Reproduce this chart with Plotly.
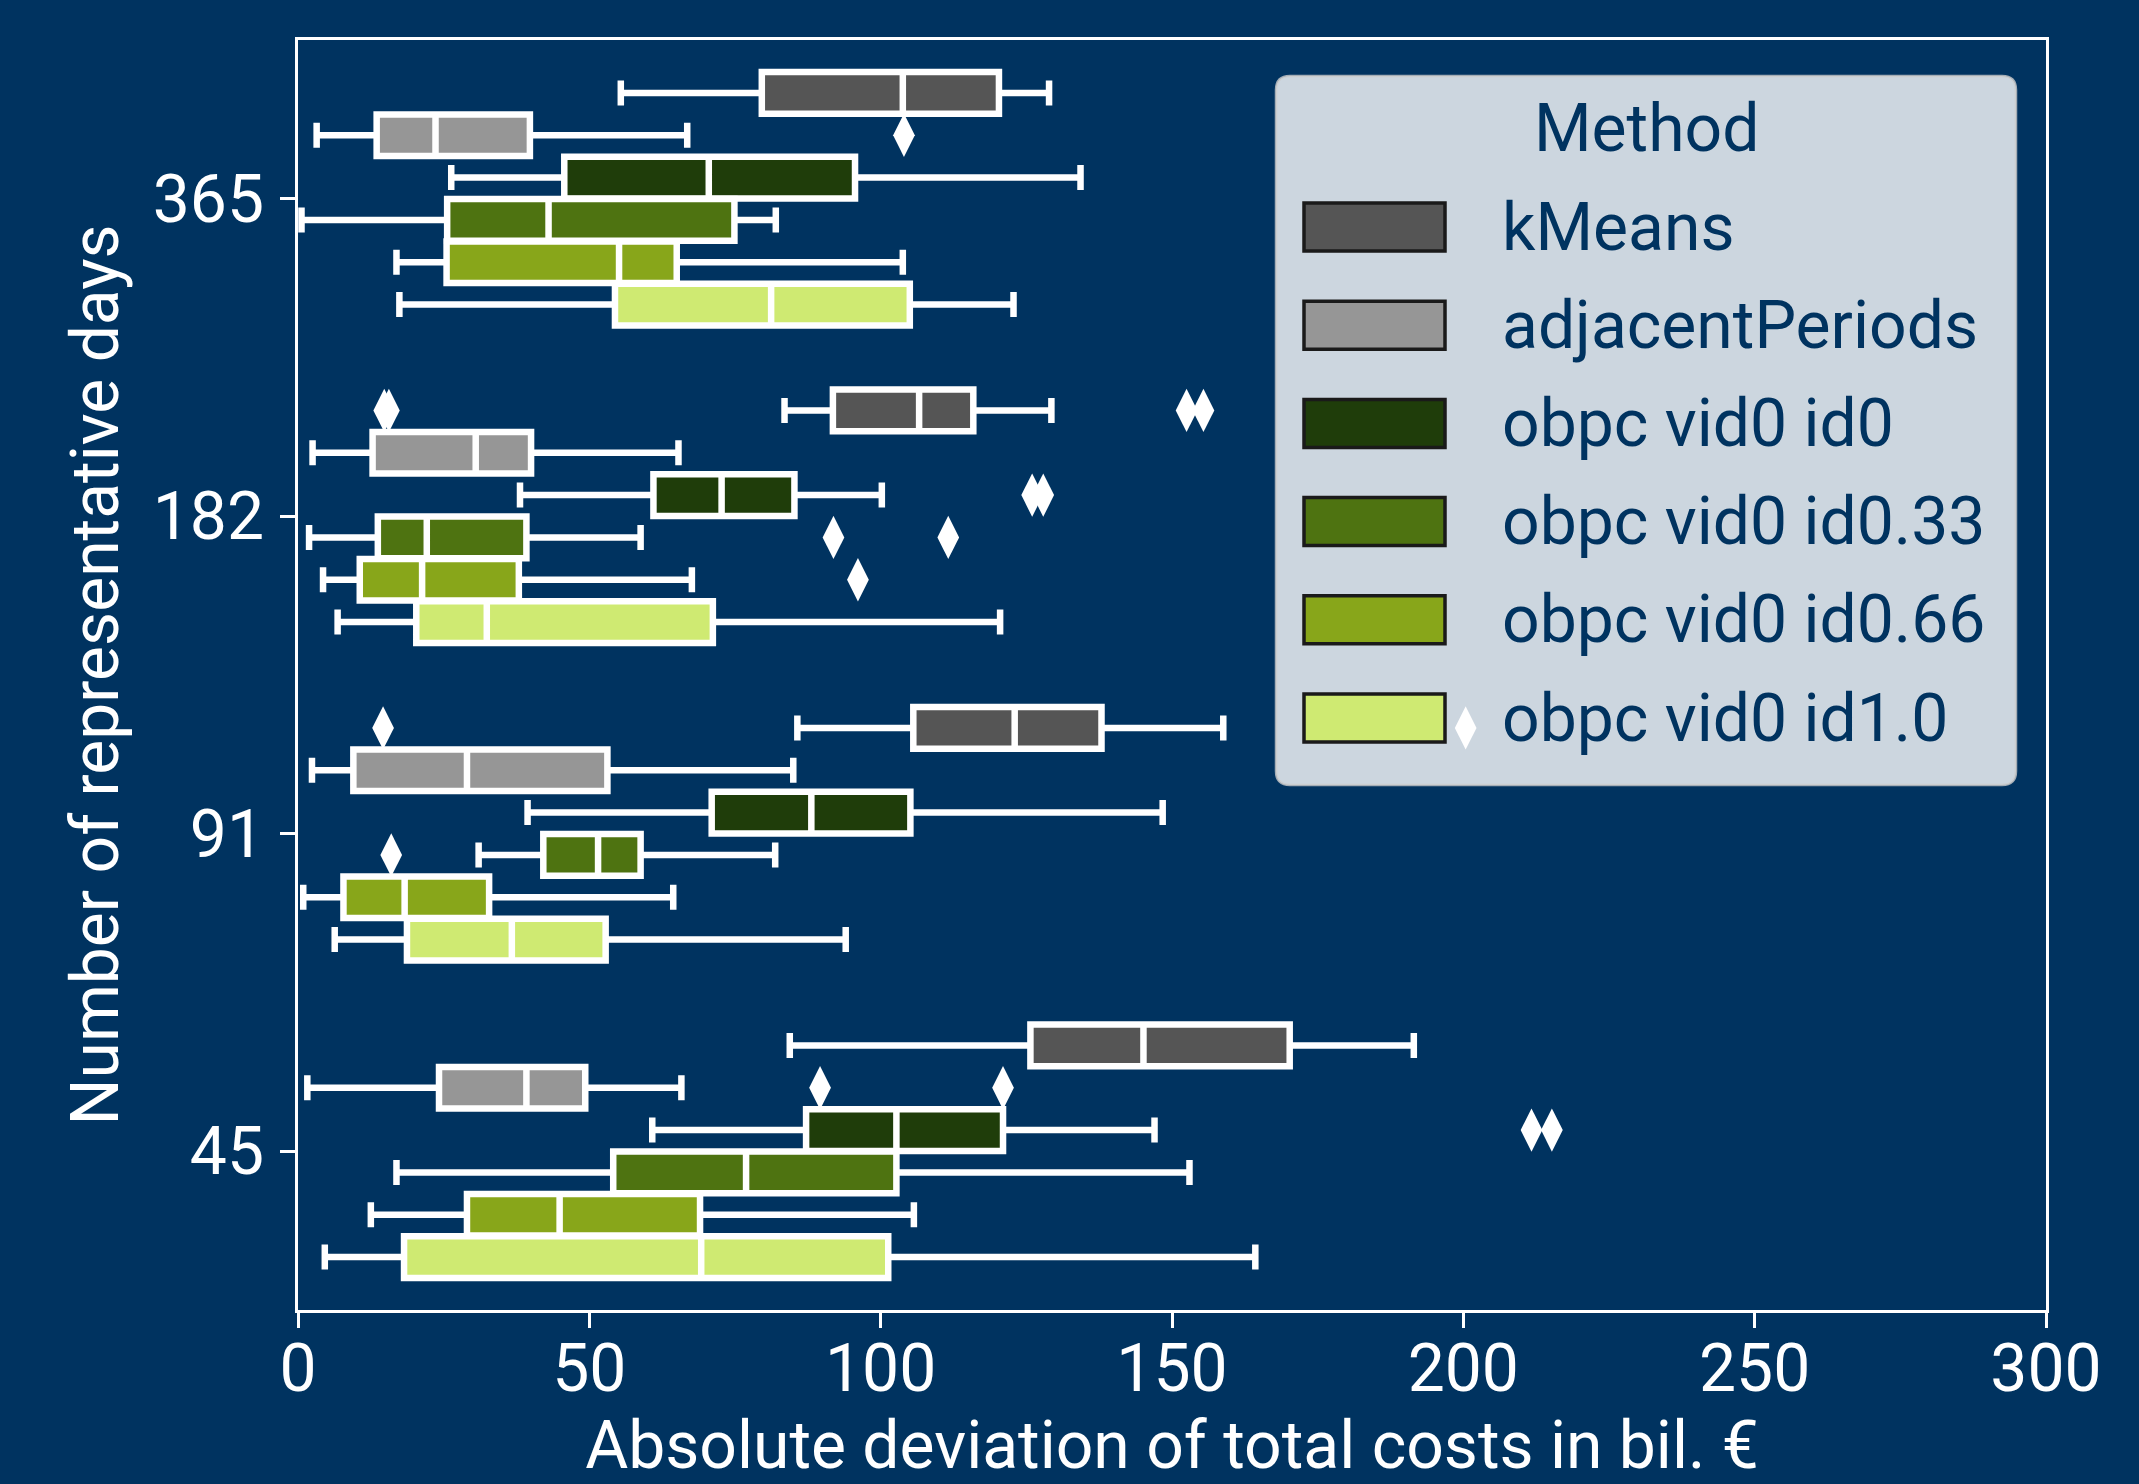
import plotly.graph_objects as go

# ---------------- data ----------------
categories = ["365", "182", "91", "45"]
methods = ["kMeans", "adjacentPeriods", "obpc vid0 id0",
           "obpc vid0 id0.33", "obpc vid0 id0.66", "obpc vid0 id1.0"]
colors = ["#555555", "#969696", "#1F3D0A", "#4E7311", "#88A61A", "#CFEA72"]

# indexed [method][category], categories in order 365, 182, 91, 45
whisker_low = [
    [55.4, 83.5, 85.7, 84.4],
    [3.2, 2.5, 2.4, 1.6],
    [26.3, 38.1, 39.4, 60.8],
    [0.6, 1.9, 31.0, 16.9],
    [16.9, 4.3, 0.9, 12.5],
    [17.4, 6.8, 6.3, 4.6],
]
q1 = [
    [79.6, 91.8, 105.6, 125.7],
    [13.5, 12.8, 9.5, 24.2],
    [45.7, 61.0, 71.0, 87.2],
    [25.6, 13.7, 42.1, 54.1],
    [25.5, 10.6, 7.8, 29.0],
    [54.4, 20.3, 18.7, 18.2],
]
median = [
    [103.8, 106.6, 123.0, 145.1],
    [23.6, 30.5, 29.0, 39.2],
    [70.5, 72.7, 88.1, 102.7],
    [43.0, 22.1, 51.5, 76.9],
    [55.1, 21.3, 18.3, 44.9],
    [81.2, 32.4, 36.7, 69.2],
]
q3 = [
    [120.3, 115.9, 137.9, 170.2],
    [39.8, 40.0, 53.1, 49.3],
    [95.6, 85.2, 105.1, 121.0],
    [74.9, 39.2, 58.8, 102.7],
    [65.0, 37.9, 32.8, 69.0],
    [105.0, 71.2, 52.8, 101.3],
]
whisker_high = [
    [128.9, 129.3, 158.8, 191.5],
    [66.8, 65.3, 85.0, 65.8],
    [134.3, 100.2, 148.4, 147.0],
    [82.0, 58.8, 81.9, 153.0],
    [103.8, 67.6, 64.4, 105.7],
    [122.8, 120.5, 94.0, 164.3],
]
outliers = [
    [[], [14.8, 15.6, 152.5, 155.4], [14.6, 200.4], []],
    [[104.0], [], [], [89.6, 121.0]],
    [[], [126.0, 127.9], [], [211.7, 215.2]],
    [[], [91.9, 111.6], [16.0], []],
    [[], [96.1], [], []],
    [[], [], [], []],
]
x_ticks = [0, 50, 100, 150, 200, 250, 300]

# ---------------- style ----------------
BG = "#003360"
FONT = "Roboto"
FS = 66
W, H = 2139, 1484
L, R, T, B = 298, 93, 40, 174
PW, PH = W - L - R, H - T - B
n_m = len(methods)
group_w = 0.8
slot = group_w / n_m
box_w = 0.131

fig = go.Figure()

for m, name in enumerate(methods):
    off = (m - (n_m - 1) / 2) * slot
    pos = [c + off for c in range(len(categories))]
    fig.add_trace(go.Box(
        orientation="h", y=pos,
        q1=q1[m], median=median[m], q3=q3[m],
        lowerfence=whisker_low[m], upperfence=whisker_high[m],
        width=box_w, whiskerwidth=0.6,
        fillcolor=colors[m], line=dict(color="white", width=6.5),
        boxpoints=False, name=name, showlegend=False, hoverinfo="skip",
    ))
    ox, oy = [], []
    for c, vals in enumerate(outliers[m]):
        for v in vals:
            ox.append(v)
            oy.append(c + off)
    if ox:
        fig.add_trace(go.Scatter(
            x=ox, y=oy, mode="markers", showlegend=False, hoverinfo="skip",
            marker=dict(symbol="diamond-tall", size=31, color="white",
                        line=dict(width=0)),
        ))

# ---------------- manual legend ----------------
def px2x(px):
    return (px - L) / PW

def py2y(py):
    return 1 - (py - T) / PH

lx0, lx1, ly0, ly1 = 1276, 2016, 76, 785
rad = 14
rx, ry = rad / PW, rad / PH
X0, X1, Y0, Y1 = px2x(lx0), px2x(lx1), py2y(ly0), py2y(ly1)
path = (f"M{X0+rx},{Y0} L{X1-rx},{Y0} Q{X1},{Y0} {X1},{Y0-ry} "
        f"L{X1},{Y1+ry} Q{X1},{Y1} {X1-rx},{Y1} L{X0+rx},{Y1} "
        f"Q{X0},{Y1} {X0},{Y1+ry} L{X0},{Y0-ry} Q{X0},{Y0} {X0+rx},{Y0} Z")
shapes = [dict(type="path", xref="paper", yref="paper", path=path,
               fillcolor="rgba(255,255,255,0.8)",
               line=dict(color="rgba(204,204,204,0.8)", width=2.5),
               layer="above")]
annotations = [dict(text="Method", x=px2x(1646), y=py2y(128), xref="paper",
                    yref="paper", xanchor="center", yanchor="middle",
                    showarrow=False, font=dict(family=FONT, size=FS, color=BG))]
row0, row_step = 227, 98.2
for m, name in enumerate(methods):
    cy = row0 + m * row_step
    shapes.append(dict(type="rect", xref="paper", yref="paper",
                       x0=px2x(1304), x1=px2x(1445),
                       y0=py2y(cy - 24), y1=py2y(cy + 24),
                       fillcolor=colors[m], line=dict(color="#1a1a1a", width=3.5),
                       layer="above"))
    annotations.append(dict(text=name, x=px2x(1500), y=py2y(cy), xref="paper",
                            yref="paper", xanchor="left", yanchor="middle",
                            showarrow=False,
                            font=dict(family=FONT, size=FS, color=BG)))

fig.update_layout(
    width=W, height=H,
    margin=dict(l=L, r=R, t=T, b=B, autoexpand=False),
    paper_bgcolor=BG, plot_bgcolor=BG,
    font=dict(family=FONT, size=FS, color="white"),
    shapes=shapes, annotations=annotations, showlegend=False,
)
fig.update_xaxes(
    range=[0, 300], tickvals=x_ticks, ticktext=[str(t) for t in x_ticks],
    showgrid=False, zeroline=False, showline=True, linecolor="white",
    linewidth=2.5, mirror=True, ticks="outside", ticklen=15, tickwidth=2.5,
    tickcolor="white", tickfont=dict(family=FONT, size=FS, color="white"),
    ticklabelstandoff=-16,
    title=dict(text="Absolute deviation of total costs in bil. €",
               font=dict(family=FONT, size=FS, color="white"), standoff=10),
)
fig.update_yaxes(
    range=[len(categories) - 0.5, -0.5],
    tickvals=list(range(len(categories))), ticktext=categories,
    showgrid=False, zeroline=False, showline=True, linecolor="white",
    linewidth=2.5, mirror=True, ticks="outside", ticklen=15, tickwidth=2.5,
    tickcolor="white", tickfont=dict(family=FONT, size=FS, color="white"),
    ticklabelstandoff=3,
    title=dict(text="Number of representative days",
               font=dict(family=FONT, size=FS, color="white"), standoff=13),
)

fig.write_html("out.html",
               config={"displayModeBar": False},
               post_script="document.body.style.margin='0px';"
                           "document.body.style.overflow='hidden';")
